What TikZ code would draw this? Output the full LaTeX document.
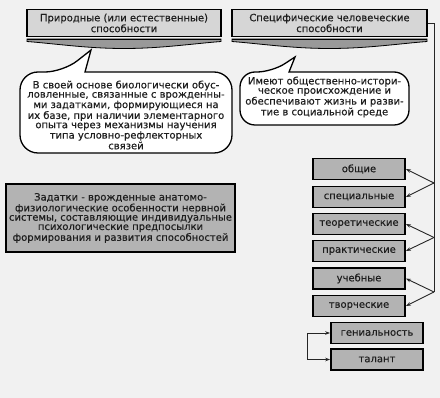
\documentclass[tikz,border=0pt]{standalone}
\usepackage{fontspec}
\setmainfont{DejaVu Sans}[FakeBold=0.4]
\usetikzlibrary{arrows.meta}
\definecolor{bg}{HTML}{F1F1F1}
\definecolor{hdrfill}{HTML}{D6D6D6}
\definecolor{boxfill}{HTML}{B3B3B3}
\definecolor{txt}{HTML}{1E1E1E}
\tikzset{
  txtfont/.style={font=\fontsize{10}{9.3}\selectfont, text=txt, align=center},
  hdr/.style={draw=black, line width=1.8pt, fill=hdrfill, inner sep=0pt, txtfont},
  ribbon/.style={draw=black, fill=black!40, line width=0.8pt},
  bubble/.style={draw=black, line width=1.3pt, fill=white},
  catbox/.style={draw=black, line width=1.8pt, fill=boxfill, minimum width=92pt, minimum height=21pt, inner sep=0pt, txtfont},
  bigbox/.style={draw=black, line width=1.8pt, fill=boxfill, minimum width=229pt, minimum height=68pt, inner sep=0pt, txtfont},
  conn/.style={draw=black!85, line width=0.9pt},
  tip/.style={-{Stealth[length=5pt,width=3.6pt]}}
}
\begin{document}
\begin{tikzpicture}[x=1pt,y=-1pt]
\useasboundingbox (0,0) rectangle (440,398);
\fill[bg] (0,0) rectangle (440,398);

% headers
\node[hdr, minimum width=194pt, minimum height=27pt] (h1) at (124,23) {Природные (или естественные)\\способности};
\node[hdr, minimum width=195pt, minimum height=27pt] (h2) at (329.5,23) {Специфические человеческие\\способности};

% ribbons
\filldraw[ribbon] (27,39) -- (221,39) -- (221,41.5) .. controls (190,44) and (160,48.5) .. (124,48.5) .. controls (88,48.5) and (58,44) .. (27,41.5) -- cycle;
\draw[line width=1.6pt] (27,39.5) -- (221,39.5);
\filldraw[ribbon] (232,39) -- (427,39) -- (427,41.5) .. controls (396,44) and (366,48.5) .. (329.5,48.5) .. controls (293,48.5) and (263,44) .. (232,41.5) -- cycle;
\draw[line width=1.6pt] (232,39.5) -- (427,39.5);

% bubbles
\draw[bubble] (63,72) -- (91,50) -- (85,72) [rounded corners=18pt] -- (232,72) -- (232,153) -- (20,153) -- (20,72) -- cycle;
\node[txtfont] (t1) at (126,115) {В своей основе биологически обус-\\ловленные, связанные с врожденны-\\ми задатками, формирующиеся на\\их базе, при наличии элементарного\\опыта через механизмы научения\\типа условно-рефлекторных\\связей};

\draw[bubble] (272,72) -- (295,57) -- (289,72) [rounded corners=15pt] -- (409,72) -- (409,125) -- (240,125) -- (240,72) -- cycle;
\node[txtfont] (t2) at (324.5,97) {Имеют общественно-истори-\\ческое происхождение и\\обеспечивают жизнь и разви-\\тие в социальной среде};

% zadatki
\node[bigbox] (zad) at (120.5,218) {Задатки - врожденные анатомо-\\физиологические особенности нервной\\системы, составляющие индивидуальные\\психологические предпосылки\\формирования и развития способностей};

% category boxes
\node[catbox] (obsh) at (359,169) {общие};
\node[catbox] (spec) at (359,197) {специальные};
\node[catbox] (teor) at (359,224) {теоретические};
\node[catbox] (prak) at (359,251) {практические};
\node[catbox] (ucheb) at (359,278.5) {учебные};
\node[catbox] (tvor) at (359,306) {творческие};
\node[catbox] (gen) at (377,333) {гениальность};
\node[catbox] (tal) at (377,359.5) {талант};

% connectors
\coordinate (v1) at (434,183);
\coordinate (v2) at (434,237.5);
\coordinate (v3) at (434,292);
\draw[conn] (h2.east) -- (434,23) -- (v3);
\draw[conn, tip] (v1) -- (obsh.east);
\draw[conn, tip] (v1) -- (spec.east);
\draw[conn, tip] (v2) -- (teor.east);
\draw[conn, tip] (v2) -- (prak.east);
\draw[conn, tip] (v3) -- (ucheb.east);
\draw[conn, tip] (v3) -- (tvor.east);
\draw[conn, {Stealth[length=5pt,width=3.6pt]}-{Stealth[length=5pt,width=3.6pt]}] (gen.west) -- (307,333) -- (307,359.5) -- (tal.west);
\end{tikzpicture}
\end{document}
